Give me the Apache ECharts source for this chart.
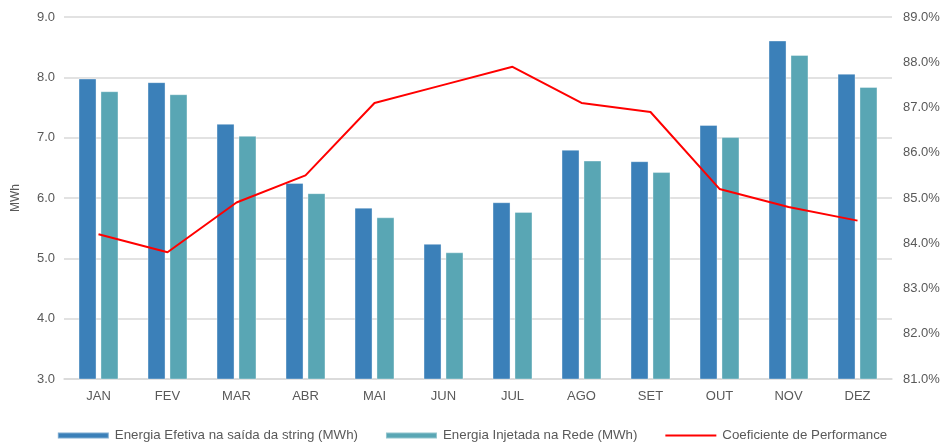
<!DOCTYPE html>
<html>
<head>
<meta charset="utf-8">
<script src="https://cdn.jsdelivr.net/npm/echarts@6/dist/echarts.min.js"></script>
<style>
  html, body { margin: 0; padding: 0; background: #fff; }
  #chart { width: 944px; height: 442px; }
</style>
</head>
<body>
<div id="chart"></div>
<script>
// Monthly energy (MWh) and performance ratio (%)
const months = ['JAN', 'FEV', 'MAR', 'ABR', 'MAI', 'JUN', 'JUL', 'AGO', 'SET', 'OUT', 'NOV', 'DEZ'];
const energiaEfetiva = [7.98, 7.92, 7.23, 6.25, 5.84, 5.24, 5.93, 6.80, 6.61, 7.21, 8.61, 8.06];
const energiaInjetada = [7.77, 7.72, 7.03, 6.08, 5.68, 5.10, 5.77, 6.62, 6.43, 7.01, 8.37, 7.84];
const coeficientePerformance = [84.2, 83.8, 84.9, 85.5, 87.1, 87.5, 87.9, 87.1, 86.9, 85.2, 84.8, 84.5];

const seriesNames = [
  'Energia Efetiva na saída da string (MWh)',
  'Energia Injetada na Rede (MWh)',
  'Coeficiente de Performance'
];

const textColor = '#595959';
const fontFamily = 'Liberation Sans, Arial, sans-serif';

const chart = echarts.init(document.getElementById('chart'));
chart.setOption({
  animation: false,
  textStyle: { fontFamily: fontFamily },
  grid: { left: 64, right: 52, top: 17, bottom: 63 },
  legend: {
    top: 424,
    left: 'center',
    itemGap: 27,
    itemWidth: 51,
    itemHeight: 6,
    textStyle: { color: textColor, fontSize: 13.3, fontFamily: fontFamily, padding: [0, 0, 0, 1] },
    data: [
      { name: seriesNames[0], icon: 'rect' },
      { name: seriesNames[1], icon: 'rect' },
      { name: seriesNames[2], itemStyle: { opacity: 0 } }
    ]
  },
  xAxis: {
    type: 'category',
    data: months,
    axisTick: { show: false },
    axisLine: { lineStyle: { color: '#D9D9D9', width: 1.5 } },
    axisLabel: { color: textColor, fontSize: 13, margin: 11 }
  },
  yAxis: [
    {
      type: 'value',
      min: 3,
      max: 9,
      interval: 1,
      name: 'MWh',
      nameLocation: 'middle',
      nameGap: 42,
      nameTextStyle: { color: textColor, fontSize: 12 },
      axisLine: { show: false },
      axisTick: { show: false },
      axisLabel: { color: textColor, fontSize: 13, margin: 9, formatter: v => v.toFixed(1) },
      splitLine: { lineStyle: { color: '#D9D9D9', width: 1.5 } }
    },
    {
      type: 'value',
      min: 81,
      max: 89,
      interval: 1,
      position: 'right',
      axisLine: { show: false },
      axisTick: { show: false },
      axisLabel: { color: textColor, fontSize: 13, margin: 11, formatter: v => v.toFixed(1) + '%' },
      splitLine: { show: false }
    }
  ],
  series: [
    {
      name: seriesNames[0],
      type: 'bar',
      data: energiaEfetiva,
      barWidth: 18,
      barGap: '22%',
      itemStyle: { color: '#3B80B9', borderColor: 'rgba(255,255,255,0.35)', borderWidth: 1 }
    },
    {
      name: seriesNames[1],
      type: 'bar',
      data: energiaInjetada,
      barWidth: 18,
      barGap: '22%',
      itemStyle: { color: '#59A6B4', borderColor: 'rgba(255,255,255,0.35)', borderWidth: 1 }
    },
    {
      name: seriesNames[2],
      type: 'line',
      yAxisIndex: 1,
      data: coeficientePerformance,
      symbol: 'none',
      lineStyle: { color: '#FF0000', width: 2 },
      itemStyle: { color: '#FF0000' },
      z: 5
    }
  ]
});
</script>
</body>
</html>
